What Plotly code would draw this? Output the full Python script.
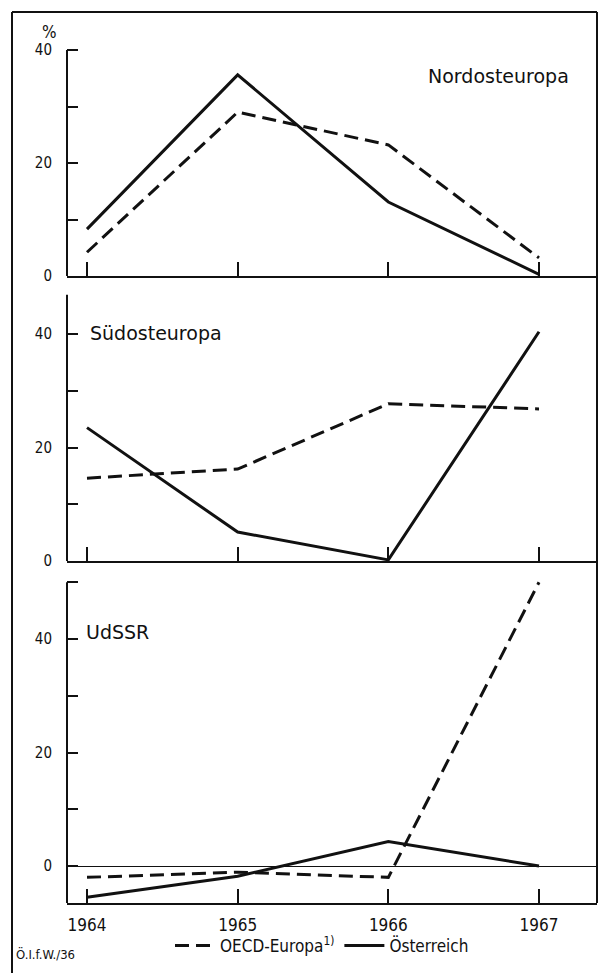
"""Export growth chart: OECD-Europa vs. Österreich, three regions, 1964-1967."""

import plotly.graph_objects as go

# page body has an 8px default margin, so the figure is drawn 8px in
BODY = 8
W, H = 608 - BODY, 973 - BODY

years = [1964, 1965, 1966, 1967]
year_labels = ["1964", "1965", "1966", "1967"]

nord_oecd = [4.2, 29.0, 23.2, 3.2]
nord_at = [8.3, 35.6, 13.1, 0.3]
sued_oecd = [14.6, 16.2, 27.7, 26.8]
sued_at = [23.5, 5.1, 0.2, 40.4]
udssr_oecd = [-2.0, -1.1, -2.0, 50.0]
udssr_at = [-5.5, -1.8, 4.3, 0.0]

panel_names = ["Nordosteuropa", "Südosteuropa", "UdSSR"]
series_names = ["OECD-Europa<sup>1)</sup>", "Österreich"]

FONT = "DejaVu Sans Condensed, DejaVu Sans, sans-serif"
LABEL_FONT = "DejaVu Sans, sans-serif"
INK = "#111111"


def py(px):
    """screen pixel row -> paper y"""
    return 1 - (px - BODY) / H


def pxx(px):
    """screen pixel column -> paper x"""
    return (px - BODY) / W


# pixel layout of the three panels
panels = [
    dict(top=12, bottom=276, lo=0.0, hi=(276 - 12) / 5.65, line=(0, 40),
         major=[0, 20, 40], minor=[10, 30]),
    dict(top=276, bottom=561, lo=0.0, hi=(561 - 276) / 5.675, line=(0, 46.9),
         major=[0, 20, 40], minor=[10, 30]),
    dict(top=561, bottom=903, lo=(866 - 903) / 5.675, hi=(866 - 561) / 5.675,
         line=((866 - 903) / 5.675, 50), major=[0, 20, 40], minor=[10, 30, 50]),
]

data_sets = [(nord_oecd, nord_at), (sued_oecd, sued_at), (udssr_oecd, udssr_at)]

x_left = 1964 - (87 - 67) / 150.7
x_right = 1967 + (597 - 539) / 150.7

fig = go.Figure()
layout = {}
shapes = []

for i, (panel, (oecd, at)) in enumerate(zip(panels, data_sets)):
    n = "" if i == 0 else str(i + 1)
    xa, ya = "x" + n, "y" + n
    last = i == 2

    fig.add_trace(go.Scatter(
        x=years, y=oecd, mode="lines", name=series_names[0],
        line=dict(color=INK, width=3, dash="14px,7px"),
        xaxis=xa, yaxis=ya, showlegend=last, legendrank=1,
    ))
    fig.add_trace(go.Scatter(
        x=years, y=at, mode="lines", name=series_names[1],
        line=dict(color=INK, width=3),
        xaxis=xa, yaxis=ya, showlegend=last, legendrank=2,
    ))

    layout["xaxis" + n] = dict(
        domain=[pxx(67), pxx(597)], range=[x_left, x_right],
        anchor=ya, tickvals=years, ticktext=year_labels,
        ticks="inside", ticklen=14, tickwidth=1.5, tickcolor=INK,
        showline=True, linecolor=INK, linewidth=2,
        showgrid=False, zeroline=False, automargin=False,
        showticklabels=last, ticklabelstandoff=6,
        tickfont=dict(family=FONT, size=17, color=INK),
        fixedrange=True,
    )
    layout["yaxis" + n] = dict(
        domain=[py(panel["bottom"]), py(panel["top"])],
        range=[panel["lo"], panel["hi"]], anchor=xa,
        tickvals=panel["major"],
        ticks="inside", ticklen=11, tickwidth=1.5, tickcolor=INK,
        minor=dict(tickvals=panel["minor"], ticks="inside", ticklen=11,
                   tickwidth=1.5, tickcolor=INK, showgrid=False),
        showline=False, showgrid=False, automargin=False,
        zeroline=last, zerolinecolor=INK, zerolinewidth=1.2,
        ticklabelstandoff=14,
        tickfont=dict(family=FONT, size=15, color=INK),
        fixedrange=True,
    )
    # vertical axis line only over its drawn span
    shapes.append(dict(
        type="line", xref=xa + " domain", yref=ya,
        x0=0, x1=0, y0=panel["line"][0], y1=panel["line"][1],
        line=dict(color=INK, width=2),
    ))

# outer frame
shapes += [
    dict(type="line", xref="paper", yref="paper", x0=pxx(12), x1=pxx(12),
         y0=py(12), y1=0, line=dict(color=INK, width=2)),
    dict(type="line", xref="paper", yref="paper", x0=pxx(12), x1=pxx(597),
         y0=py(12), y1=py(12), line=dict(color=INK, width=2)),
    dict(type="line", xref="paper", yref="paper", x0=pxx(597), x1=pxx(597),
         y0=py(12), y1=py(903), line=dict(color=INK, width=2)),
]

annotations = [
    dict(text="%", x=pxx(40), y=py(20), xref="paper", yref="paper",
         showarrow=False, font=dict(family=FONT, size=17, color=INK)),
    dict(text=panel_names[0], x=pxx(571), y=py(63), xref="paper", yref="paper",
         xanchor="right", showarrow=False, font=dict(family=LABEL_FONT, size=19, color=INK)),
    dict(text=panel_names[1], x=pxx(88), y=py(333), xref="paper", yref="paper",
         xanchor="left", showarrow=False, font=dict(family=LABEL_FONT, size=19, color=INK)),
    dict(text=panel_names[2], x=pxx(84), y=py(632), xref="paper", yref="paper",
         xanchor="left", showarrow=False, font=dict(family=LABEL_FONT, size=19, color=INK)),
    dict(text="Ö.I.f.W./36", x=pxx(14), y=py(964), xref="paper", yref="paper",
         xanchor="left", showarrow=False, font=dict(family=FONT, size=13, color=INK)),
]

fig.update_layout(
    width=W, height=H,
    margin=dict(l=0, r=0, t=0, b=0),
    paper_bgcolor="white", plot_bgcolor="white",
    shapes=shapes, annotations=annotations,
    legend=dict(
        orientation="h", x=pxx(322), y=py(946), xanchor="center", yanchor="middle",
        font=dict(family=FONT, size=17, color=INK),
        itemwidth=40, tracegroupgap=0, bgcolor="rgba(0,0,0,0)",
    ),
    font=dict(family=FONT, color=INK),
    **layout,
)

fig.write_html("out.html")
